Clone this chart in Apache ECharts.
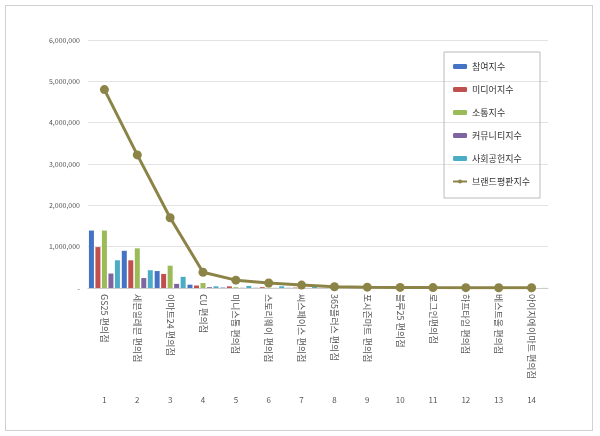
<!DOCTYPE html><html><head><meta charset="utf-8"><script src="https://cdn.jsdelivr.net/npm/echarts@6/dist/echarts.min.js"></script>
<style>body{margin:0}#c{width:600px;height:436px;}#f{position:absolute;left:5px;top:5px;width:586px;height:424px;border:1px solid #d0d0d0}</style></head><body><div id="f"></div><div id="c" style="position:absolute;left:0;top:0"></div><script>
const categories=['GS25 편의점','세븐일레븐 편의점','이마트24 편의점','CU 편의점','미니스톱 편의점','스토리웨이 편의점','씨스페이스 편의점','365플러스 편의점','포시즌마트 편의점','블루25 편의점','로그인편의점','하프타임 편의점','베스트올 편의점','아이지에이마트 편의점'];
const ranks=['1','2','3','4','5','6','7','8','9','10','11','12','13','14'];
const participation=[1390000,900000,410000,80000,10000,5000,5000,2000,1000,1000,500,500,500,300];
const media=[990000,670000,340000,60000,40000,20000,10000,3000,2000,1000,1000,500,500,300];
const communication=[1390000,960000,540000,120000,20000,10000,5000,3000,2000,2000,1000,1000,500,500];
const community=[350000,240000,100000,20000,5000,3000,2000,1000,500,500,500,300,300,200];
const social=[670000,430000,270000,40000,50000,40000,30000,10000,8000,5000,4000,3000,2000,2000];
const brand=[4800000,3220000,1700000,380000,190000,120000,70000,30000,20000,15000,10000,8000,6000,5000];
const names=['참여지수','미디어지수','소통지수','커뮤니티지수','사회공헌지수','브랜드평판지수'];
const colors=['#4472c4','#c0504d','#9bbb59','#8064a2','#4bacc6','#8c8447'];
const bars=[participation,media,communication,community,social];
const ch=echarts.init(document.getElementById('c'));
ch.setOption({
 animation:false,textStyle:{fontFamily:'Noto Sans CJK KR'},
 grid:{left:88,right:52,top:40,bottom:148},
 legend:{orient:'vertical',right:60,top:52,itemGap:14,itemWidth:14,itemHeight:5,data:names,textStyle:{fontSize:9,color:'#333'},
  borderColor:'#bbb',borderWidth:1,padding:[10,10,12,8]},
 xAxis:[{type:'category',data:categories,position:'bottom',axisLine:{lineStyle:{color:'#ccc'}},
   axisTick:{length:122,lineStyle:{color:'#d9d9d9'}},axisLabel:{rotate:-90,fontSize:9,color:'#555',margin:6,align:'left'}},
  {type:'category',data:ranks,position:'bottom',offset:100,axisLine:{show:false},axisTick:{show:false},axisLabel:{fontSize:8,color:'#555'}}],
 yAxis:{type:'value',min:0,max:6000000,interval:1000000,axisLine:{show:false},axisTick:{show:false},
  splitLine:{lineStyle:{color:'#e3e3e3'}},axisLabel:{fontSize:7,color:'#555',formatter:v=>v===0?'-':v.toLocaleString('en-US')}},
 series:[...bars.map((d,i)=>({name:names[i],type:'bar',data:d,barWidth:5,barGap:'30%',itemStyle:{color:colors[i]}})),
  {name:names[5],type:'line',data:brand,symbol:'circle',symbolSize:9,lineStyle:{width:3,color:colors[5]},itemStyle:{color:colors[5]}}]
});
</script></body></html>
